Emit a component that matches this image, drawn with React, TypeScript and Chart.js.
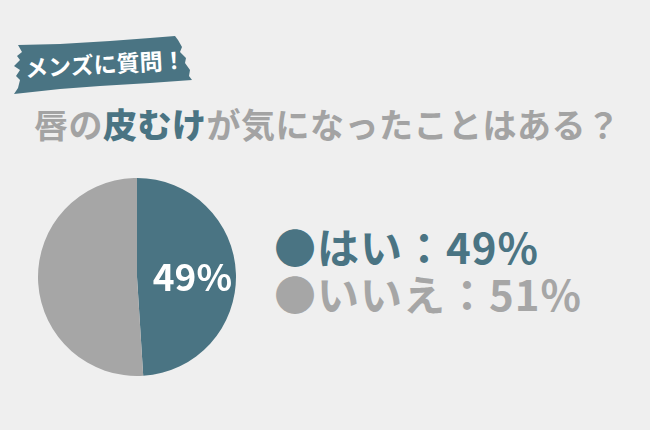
import React, { useEffect, useRef } from "react";
import { Chart, registerables } from "chart.js";

Chart.register(...registerables);

const categories = ["はい", "いいえ"];
const values = [49, 51];
const sliceLabels = ["49%", ""];
const legendLines = ["はい：49%", "いいえ：51%"];
const TEAL = "#4a7483";
const GRAY = "#a6a6a6";
const BG = "#efefef";
const FONT = '"Noto Sans CJK JP", "Noto Sans", sans-serif';

const labelPlugin = {
  id: "sliceLabel",
  afterDatasetsDraw(chart: any) {
    const ctx = chart.ctx;
    const meta = chart.getDatasetMeta(0);
    meta.data.forEach((arc: any, i: number) => {
      const text = sliceLabels[i];
      if (!text) return;
      const { x, y, startAngle, endAngle, outerRadius } = arc.getProps(
        ["x", "y", "startAngle", "endAngle", "outerRadius"],
        true
      );
      const mid = (startAngle + endAngle) / 2;
      const r = outerRadius * 0.56;
      ctx.save();
      ctx.fillStyle = "#ffffff";
      ctx.font = `700 37px ${FONT}`;
      ctx.textAlign = "center";
      ctx.textBaseline = "middle";
      ctx.fillText(text, x + Math.cos(mid) * r, y + Math.sin(mid) * r + 2);
      ctx.restore();
    });
  },
};

function PieChart() {
  const ref = useRef<HTMLCanvasElement>(null);
  useEffect(() => {
    if (!ref.current) return;
    const chart = new Chart(ref.current, {
      type: "pie",
      data: {
        labels: categories,
        datasets: [
          {
            data: values,
            backgroundColor: [TEAL, GRAY],
            borderWidth: 0,
          },
        ],
      },
      options: {
        responsive: false,
        animation: false,
        layout: { padding: 0 },
        plugins: { legend: { display: false }, tooltip: { enabled: false } },
      },
      plugins: [labelPlugin],
    });
    return () => chart.destroy();
  }, []);
  return (
    <canvas
      ref={ref}
      width={198}
      height={198}
      style={{ position: "absolute", left: 38, top: 178, width: 198, height: 198 }}
    />
  );
}

const legendStyle = {
  position: "absolute" as const,
  left: 274,
  fontSize: 42,
  lineHeight: "42px",
  fontWeight: 700,
  letterSpacing: 1,
  whiteSpace: "nowrap" as const,
};

export default function App() {
  return (
    <div
      style={{
        position: "fixed",
        left: 0,
        top: 0,
        width: 650,
        height: 430,
        background: BG,
        fontFamily: FONT,
        overflow: "hidden",
      }}
    >
      <svg width={650} height={430} style={{ position: "absolute", left: 0, top: 0 }}>
        <polygon
          fill={TEAL}
          points="18,45 60,44 110,41 150,38 175,36 178,40 182,47 180,52 186,58 185,63 190,70 189,76 192,80 150,83 100,86 60,89 14,94 18,88 20,80 16,76 20,70 14,66 20,60 17,56 22,52"
        />
      </svg>
      <div
        style={{
          position: "absolute",
          left: 25,
          top: 56,
          fontSize: 23,
          lineHeight: 1,
          fontWeight: 700,
          color: "#ffffff",
          transform: "rotate(-3deg)",
          transformOrigin: "left center",
          whiteSpace: "nowrap",
        }}
      >
        メンズに質問！
      </div>
      <div
        style={{
          position: "absolute",
          left: 34,
          top: 107,
          fontSize: 34,
          lineHeight: 1,
          fontWeight: 700,
          letterSpacing: 0.5,
          color: "#a3a3a3",
          whiteSpace: "nowrap",
        }}
      >
        唇の<span style={{ color: TEAL, fontWeight: 900 }}>皮むけ</span>が気になったことはある？
      </div>
      <PieChart />
      <div style={{ ...legendStyle, top: 224.5, color: TEAL }}>●{legendLines[0]}</div>
      <div style={{ ...legendStyle, top: 271.5, color: GRAY }}>●{legendLines[1]}</div>
    </div>
  );
}
